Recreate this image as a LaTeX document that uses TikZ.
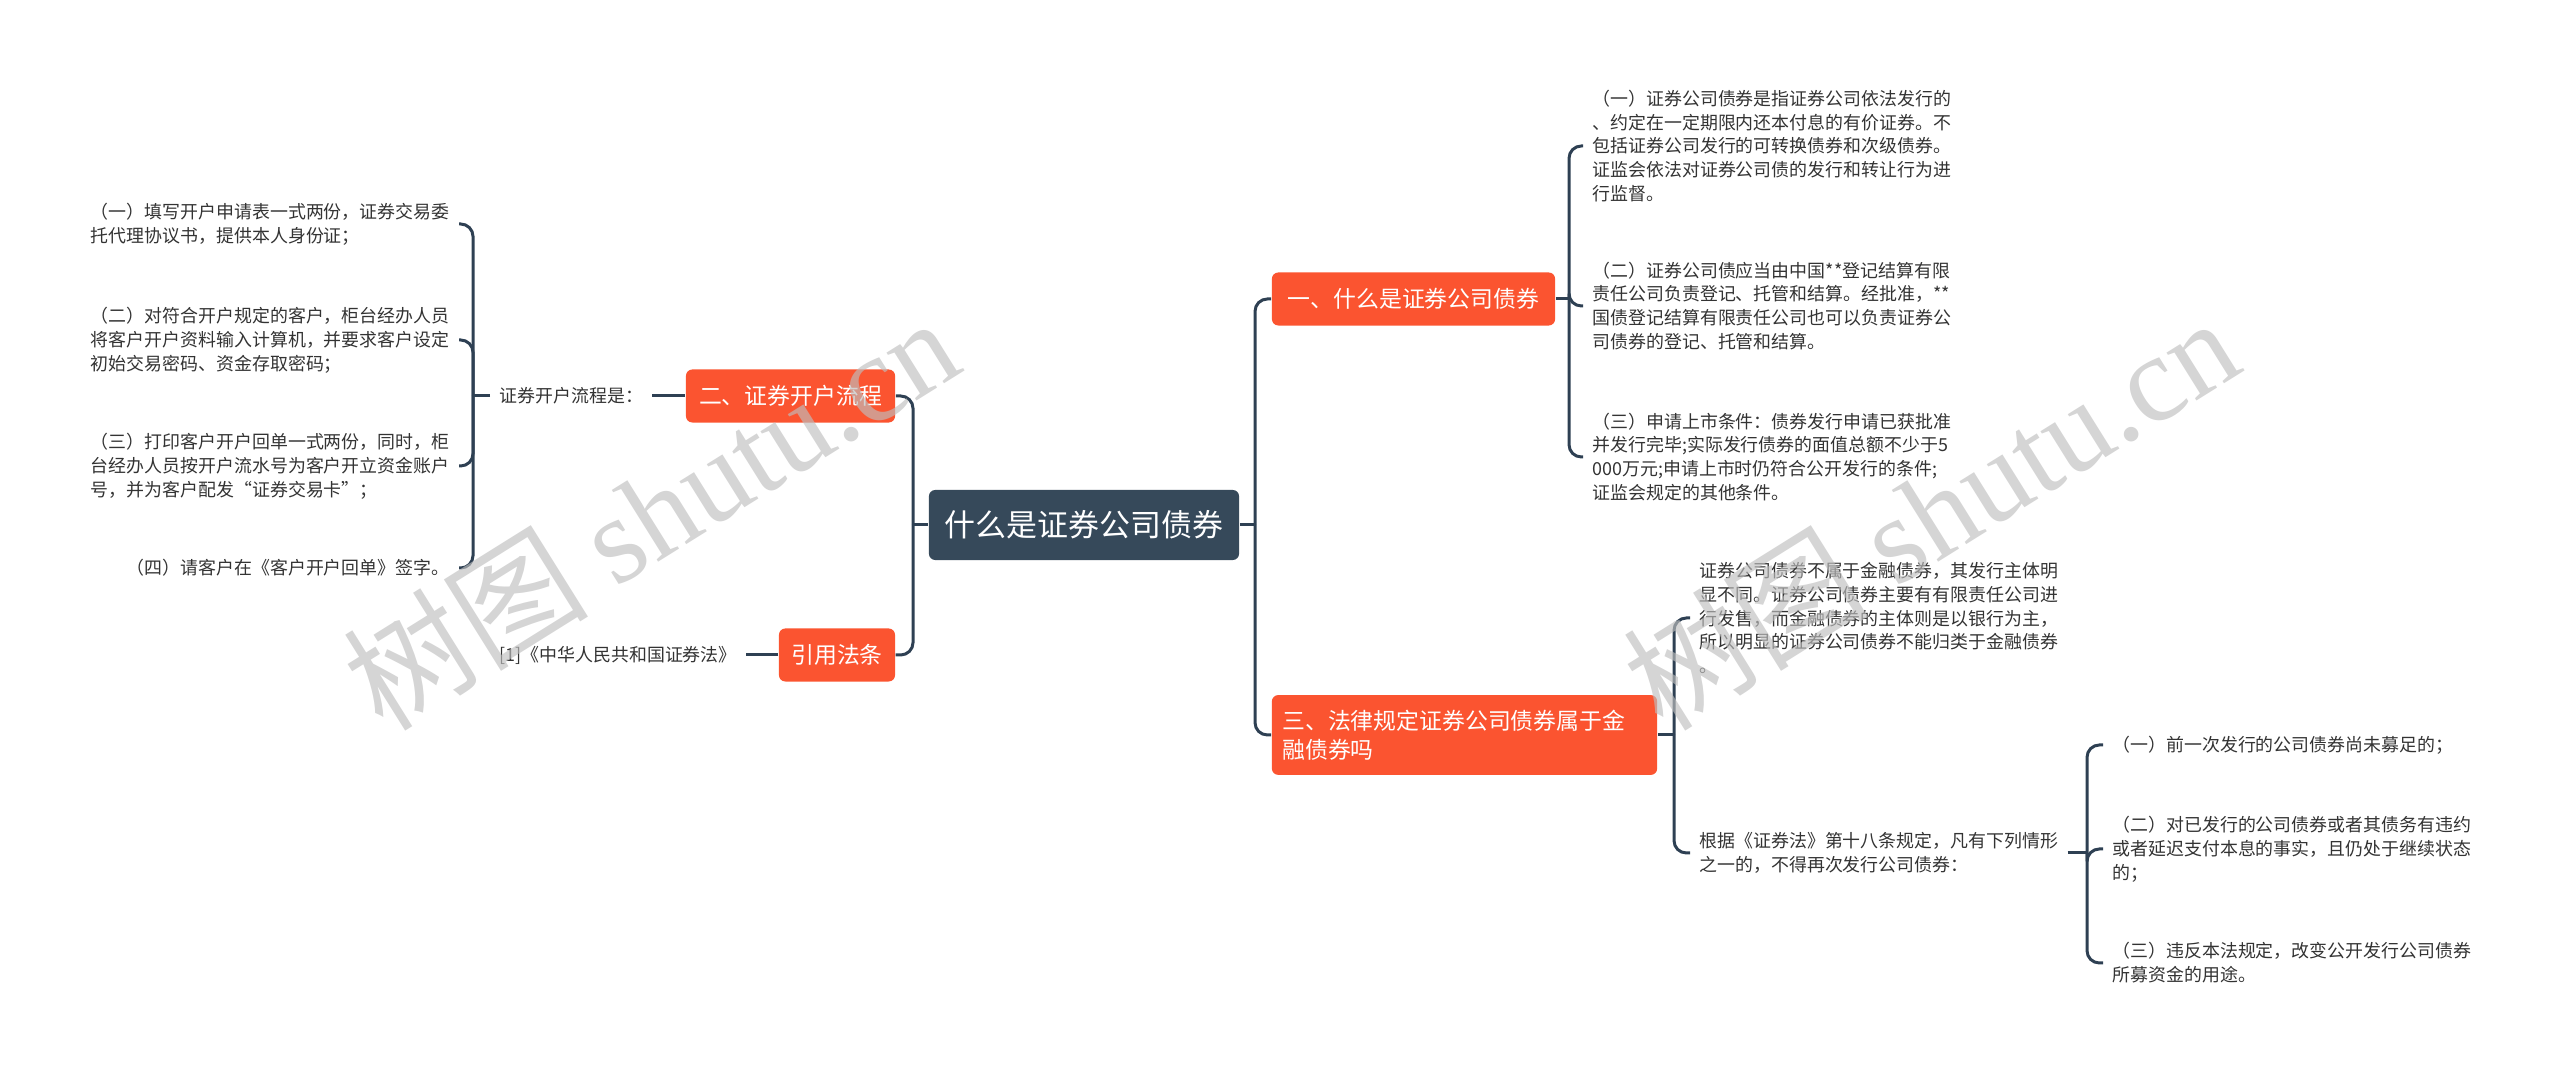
\documentclass[tikz,border=0pt]{standalone}
\usepackage{fontspec}
\setmainfont{Noto Sans CJK SC}
\newfontfamily\wmserif{Liberation Serif}
\usepackage{xcolor}
\usepackage{tikz}

\definecolor{rootblue}{HTML}{36495A}
\definecolor{topicred}{HTML}{FB5430}
\definecolor{linkblue}{HTML}{2E4053}
\definecolor{leafgray}{HTML}{333333}
\definecolor{wmgray}{HTML}{BEBEBE}

\begin{document}
\begin{tikzpicture}[x=0.01cm, y=-0.01cm,
    link/.style={draw=linkblue, line width=0.85pt, rounded corners=3.5pt},
    root/.style={fill=rootblue, text=white, rounded corners=1.8pt, minimum height=0.7cm,
        font=\fontsize{8.8pt}{10pt}\selectfont},
    topic/.style={fill=topicred, text=white, rounded corners=1.8pt, minimum height=0.53cm,
        inner xsep=3pt, inner ysep=4.2pt, font=\fontsize{6.5pt}{8.25pt}\selectfont},
    leaf/.style={text=leafgray, align=left, inner xsep=2.5pt, inner ysep=1.4pt,
        font=\fontsize{5.1pt}{6.8pt}\selectfont},
    wm/.style={text=wmgray, text opacity=0.65, font=\fontsize{35pt}{35pt}\selectfont}]
    \useasboundingbox (0,0) rectangle (2560,1071);

    % centre and main topics
    \node[root, minimum width=3.1cm] (root) at (1084,525) {什么是证券公司债券};
    \node[topic, minimum width=2.09cm] (b2) at (790.5,396) {二、证券开户流程};
    \node[topic, minimum width=1.16cm] (b4) at (837,655) {引用法条};
    \node[topic, minimum width=2.83cm] (b1) at (1413.5,299) {一、什么是证券公司债券};
    \node[topic, text width=3.64cm, align=left] (b3) at (1464.5,735) {三、法律规定证券公司债券属于金\\融债券吗};

    % left side
    \node[leaf, anchor=west] (intro) at (490,396) {证券开户流程是：};
    \node[leaf, anchor=west] (ref) at (490,655) {[1]《中华人民共和国证券法》};
    \node[leaf, anchor=east] (l1) at (459,224) {（一）填写开户申请表一式两份，证券交易委\\托代理协议书，提供本人身份证；};
    \node[leaf, anchor=east] (l2) at (459,340) {（二）对符合开户规定的客户，柜台经办人员\\将客户开户资料输入计算机，并要求客户设定\\初始交易密码、资金存取密码；};
    \node[leaf, anchor=east] (l3) at (459,466) {（三）打印客户开户回单一式两份，同时，柜\\台经办人员按开户流水号为客户开立资金账户\\号，并为客户配发“证券交易卡”；};
    \node[leaf, anchor=east] (l4) at (459,568) {（四）请客户在《客户开户回单》签字。};

    % right side
    \node[leaf, anchor=west] (r1) at (1583,146) {（一）证券公司债券是指证券公司依法发行的\\、约定在一定期限内还本付息的有价证券。不\\包括证券公司发行的可转换债券和次级债券。\\证监会依法对证券公司债的发行和转让行为进\\行监督。};
    \node[leaf, anchor=west] (r2) at (1583,306) {（二）证券公司债应当由中国**登记结算有限\\责任公司负责登记、托管和结算。经批准，**\\国债登记结算有限责任公司也可以负责证券公\\司债券的登记、托管和结算。};
    \node[leaf, anchor=west] (r3) at (1583,457) {（三）申请上市条件：债券发行申请已获批准\\并发行完毕;实际发行债券的面值总额不少于5\\000万元;申请上市时仍符合公开发行的条件;\\证监会规定的其他条件。};
    \node[leaf, anchor=west] (t1) at (1690,618) {证券公司债券不属于金融债券，其发行主体明\\显不同。证券公司债券主要有有限责任公司进\\行发售，而金融债券的主体则是以银行为主，\\所以明显的证券公司债券不能归类于金融债券\\。};
    \node[leaf, anchor=west] (t2) at (1690,853) {根据《证券法》第十八条规定，凡有下列情形\\之一的，不得再次发行公司债券：};
    \node[leaf, anchor=west] (s1) at (2103,745) {（一）前一次发行的公司债券尚未募足的；};
    \node[leaf, anchor=west] (s2) at (2103,849) {（二）对已发行的公司债券或者其债务有违约\\或者延迟支付本息的事实，且仍处于继续状态\\的；};
    \node[leaf, anchor=west] (s3) at (2103,963) {（三）违反本法规定，改变公开发行公司债券\\所募资金的用途。};

    % connectors
    \coordinate (jl) at (913,525);
    \coordinate (jr) at (1255,525);
    \coordinate (jp) at (473,396);
    \coordinate (ja) at (1569,299);
    \coordinate (jb) at (1674,735);
    \coordinate (jt) at (2087,853);
    \draw[link] (root.west) -- (jl);
    \draw[link] (root.east) -- (jr);
    \foreach \n in {b2,b4}
        \draw[link] (jl) |- (\n.east);
    \foreach \n in {b1,b3}
        \draw[link] (jr) |- (\n.west);
    \draw[link] (b2.west) -- (intro.east);
    \draw[link] (b4.west) -- (ref.east);
    \draw[link] (intro.west) -- (jp);
    \foreach \n in {l1,l2,l3,l4}
        \draw[link] (jp) |- (\n.east);
    \draw[link] (b1.east) -- (ja);
    \foreach \n in {r1,r2,r3}
        \draw[link] (ja) |- (\n.west);
    \draw[link] (b3.east) -- (jb);
    \foreach \n in {t1,t2}
        \draw[link] (jb) |- (\n.west);
    \draw[link] (t2.east) -- (jt);
    \foreach \n in {s1,s2,s3}
        \draw[link] (jt) |- (\n.west);

    % watermark
    \node[wm, rotate=32] (wmleft) at (650,512) {树图 {\wmserif shutu.cn}};
    \node[wm, rotate=32] (wmright) at (1930,512) {树图 {\wmserif shutu.cn}};
\end{tikzpicture}
\end{document}
